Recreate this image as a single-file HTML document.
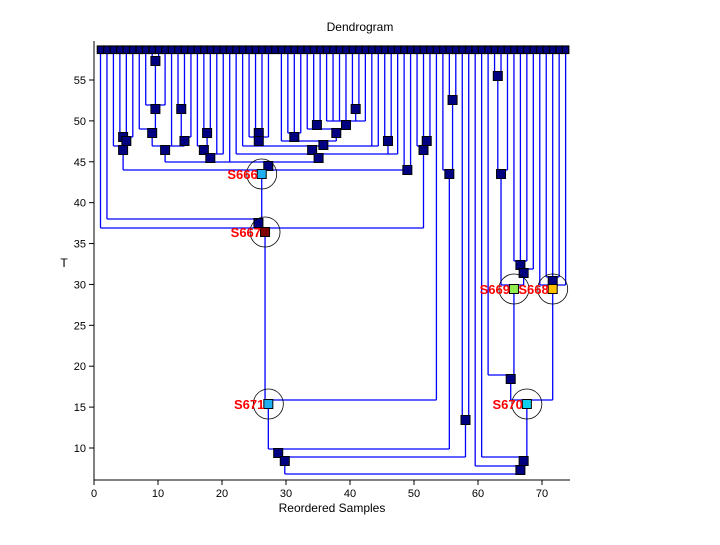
<!DOCTYPE html>
<html><head><meta charset="utf-8"><style>
body{margin:0;background:#fff;}
svg text{font-family:"Liberation Sans",sans-serif;}
</style></head><body>
<svg id="s" width="720" height="540" xmlns="http://www.w3.org/2000/svg">
<rect width="720" height="540" fill="#fff"/>
<text x="360" y="31" font-size="12" text-anchor="middle">Dendrogram</text>
<text x="332" y="512" font-size="12" text-anchor="middle">Reordered Samples</text>
<text x="64" y="267" font-size="12" text-anchor="middle">T</text>
<line x1="94" y1="41" x2="94" y2="480" stroke="#000"/>
<line x1="94" y1="480" x2="570" y2="480" stroke="#000"/>
<g id="ax"></g><g id="ln"></g><g id="bx"></g><g id="hl"></g>
</svg>
<script>
var NS="http://www.w3.org/2000/svg";
function el(p,t,a,txt){var e=document.createElementNS(NS,t);for(var k in a)e.setAttribute(k,a[k]);if(txt!==undefined)e.textContent=txt;document.getElementById(p).appendChild(e);return e;}
for(var t=0;t<=70;t+=10){var x=94+6.4*t;el('ax','line',{x1:x,y1:480,x2:x,y2:485,stroke:'#000'});el('ax','text',{x:x,y:497,'font-size':11,'text-anchor':'middle'},String(t));}
for(var T=10;T<=55;T+=5){var y=448-(T-10)*8.178;el('ax','line',{x1:89,y1:y,x2:94,y2:y,stroke:'#000'});el('ax','text',{x:86,y:y+4,'font-size':11,'text-anchor':'end'},String(T));}
function LX(k){return 100.5+6.46*k;}
function N(c,y){return {c:c,y:y};}
function info(n){if(typeof n==='number')return {x:LX(n),y:50,leaf:true,sum:LX(n),cnt:1};
 var s=0,c=0;n.ci=n.c.map(info);n.ci.forEach(function(i){s+=i.sum;c+=i.cnt;});n.x=s/c;n.sum=s;n.cnt=c;return n;}
var c123=N([2,N([N([3,4],133),5],137)],146);
var n105=N([7,N([8,9],57),10],105);
var n133=N([6,n105],129);
var c184=N([N([12,13],105),14],137);
var c165=N([n133,11,c184],146);
var c210=N([N([15,N([16,17],129)],146),18,19],154);
var a=N([39,40],105), b=N([35,36,37,38,a,41],121), cc=N([33,34],121);
var d=N([32,cc,b],129), e=N([29,30,31],133), f=N([28,e,d],141);
var c23=N([23,N([24,25],129),26],137);
var g=N([22,c23,f,42,43],146);
var h=N([44,45],137);
var ii=N([21,g,h,46],154);
var big=N([c165,c210,20,ii],162);
var S666=N([c123,big,N([47,48],166)],170);
var n219=N([1,S666],219);
var c423=N([N([50,51],137),49],146);
var S667=N([0,n219,c423],228);
var S671=N([S667,52],400);
var c448=N([53,N([54,55],96)],170);
var n449=N([S671,c448],449);
var n457=N([n449,N([56,57],416)],457);
var c500=N([N([61,62],72),63],170);
var c522=N([N([64,65,66],261),67],269);
var S669=N([c500,c522],285);
var n375=N([60,S669],375);
var S668=N([68,N([69,70,71],277),72],285);
var S670=N([n375,S668],400);
var n457b=N([59,S670],457);
var n466=N([58,n457b],466);
var root=N([n457,n466],474);
info(root);
var boxes=[];
function draw(n){if(n.leaf)return;var xs=n.ci.map(function(i){return i.x;});
 var mn=Math.min.apply(null,xs),mx=Math.max.apply(null,xs);
 el('ln','line',{x1:mn,y1:n.y,x2:mx,y2:n.y,stroke:'#0000ff','stroke-width':1.3});
 n.ci.forEach(function(i){el('ln','line',{x1:i.x,y1:i.y,x2:i.x,y2:n.y,stroke:'#0000ff','stroke-width':1.3});draw(i);});
 if(n!==root)boxes.push(n);}
draw(root);
for(var k=0;k<73;k++)el('bx','rect',{x:LX(k)-3.2,y:46,width:6.4,height:7.5,fill:'#000080',stroke:'#000','stroke-width':1.2});
var special=[[S666,'#1eb0f0','S666'],[S667,'#800000','S667'],[S671,'#20b0f0','S671'],[S669,'#90ee50','S669'],[S668,'#ffc000','S668'],[S670,'#10d0f0','S670']];
boxes.forEach(function(n){var sp=special.filter(function(s){return s[0]===n;})[0];
 var col=sp?sp[1]:'#000080';
 el('bx','rect',{x:n.x-4.5,y:n.y-0.5,width:9,height:9,fill:col,stroke:'#000','stroke-width':1});
 if(sp){el('hl','circle',{cx:n.x,cy:n.y+4,r:15,fill:'none',stroke:'#000','stroke-width':0.8});
  el('hl','text',{x:n.x-4,y:n.y+9,'font-size':13,'font-weight':'bold',fill:'#ff0000','text-anchor':'end'},sp[2]);}
});
</script>
</body></html>
